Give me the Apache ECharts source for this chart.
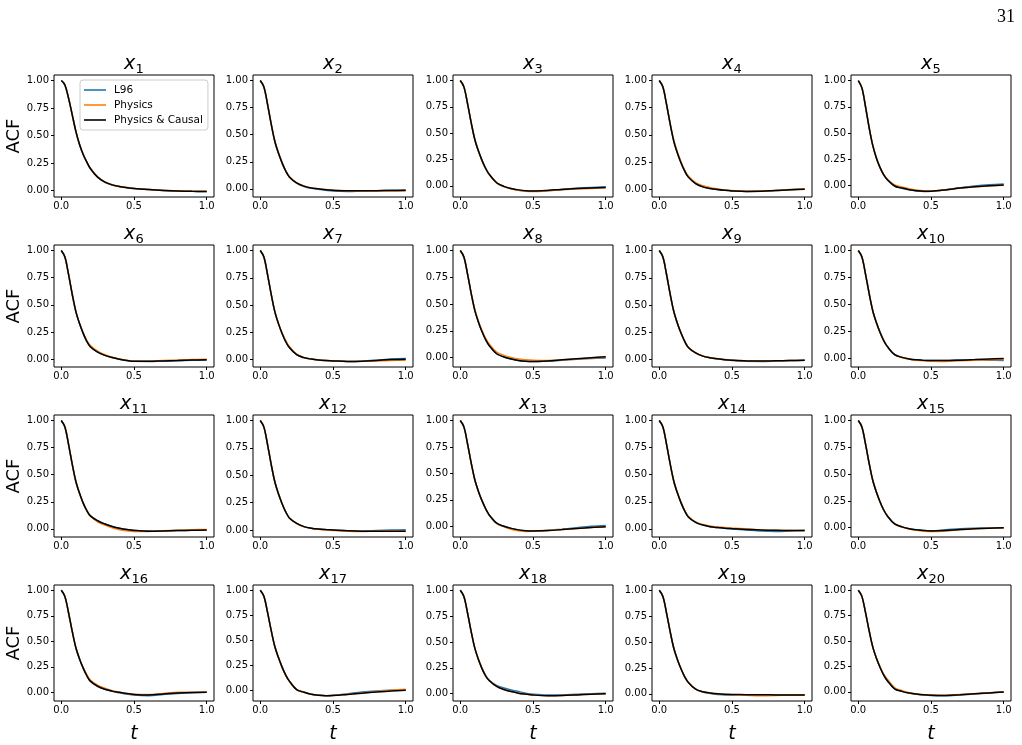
<!DOCTYPE html>
<html>
<head>
<meta charset="utf-8">
<script src="https://cdn.jsdelivr.net/npm/echarts@6/dist/echarts.min.js"></script>
<style>
  html, body { margin: 0; padding: 0; background: #fff; }
  #main { width: 1022px; height: 745px; }
</style>
</head>
<body>
<div id="main"></div>
<script>
// lag times (x values shared by every panel)
const lags = [0, 0.025, 0.05, 0.075, 0.1, 0.125, 0.15, 0.175, 0.2, 0.25, 0.3, 0.35, 0.4, 0.45, 0.5, 0.6, 0.7, 0.8, 0.9, 1.0];

// ACF per variable
const l96_1  = [1.00,0.96,0.84,0.69,0.54,0.42,0.33,0.26,0.20,0.120,0.075,0.050,0.035,0.025,0.018,0.008,0.000,-0.005,-0.008,-0.009];
const phy_1  = [1.00,0.96,0.84,0.69,0.54,0.42,0.33,0.26,0.20,0.122,0.078,0.052,0.037,0.027,0.019,0.009,0.001,-0.004,-0.007,-0.008];
const cau_1  = [1.00,0.96,0.84,0.69,0.54,0.42,0.33,0.26,0.20,0.121,0.076,0.051,0.036,0.026,0.018,0.008,0.000,-0.005,-0.008,-0.009];

const l96_2  = [1.00,0.94,0.78,0.60,0.44,0.33,0.24,0.165,0.110,0.053,0.022,0.005,-0.004,-0.013,-0.020,-0.024,-0.020,-0.017,-0.014,-0.012];
const phy_2  = [1.00,0.94,0.78,0.60,0.44,0.33,0.24,0.167,0.112,0.056,0.026,0.009,0.000,-0.006,-0.012,-0.017,-0.019,-0.020,-0.020,-0.020];
const cau_2  = [1.00,0.94,0.78,0.60,0.44,0.33,0.24,0.165,0.110,0.055,0.025,0.008,0.000,-0.008,-0.013,-0.018,-0.018,-0.017,-0.015,-0.013];

const l96_3  = [1.00,0.94,0.78,0.60,0.44,0.33,0.24,0.162,0.105,0.028,-0.007,-0.028,-0.041,-0.049,-0.052,-0.045,-0.033,-0.023,-0.015,-0.009];
const phy_3  = [1.00,0.94,0.78,0.60,0.44,0.33,0.24,0.165,0.110,0.031,-0.006,-0.027,-0.041,-0.050,-0.053,-0.047,-0.036,-0.029,-0.024,-0.019];
const cau_3  = [1.00,0.94,0.78,0.60,0.44,0.33,0.24,0.165,0.108,0.030,-0.005,-0.025,-0.038,-0.046,-0.048,-0.043,-0.034,-0.026,-0.020,-0.015];

const l96_4  = [1.00,0.94,0.78,0.60,0.44,0.33,0.24,0.165,0.110,0.050,0.020,0.005,-0.005,-0.012,-0.017,-0.022,-0.021,-0.014,-0.006,0.000];
const phy_4  = [1.00,0.94,0.78,0.60,0.45,0.34,0.25,0.175,0.120,0.060,0.030,0.013,0.002,-0.008,-0.014,-0.020,-0.018,-0.012,-0.004,0.002];
const cau_4  = [1.00,0.94,0.78,0.60,0.44,0.33,0.24,0.165,0.110,0.050,0.020,0.005,-0.005,-0.012,-0.017,-0.022,-0.021,-0.014,-0.006,-0.002];

const l96_5  = [1.00,0.93,0.75,0.55,0.38,0.26,0.17,0.100,0.055,-0.006,-0.027,-0.042,-0.052,-0.057,-0.055,-0.040,-0.022,-0.006,0.006,0.013];
const phy_5  = [1.00,0.93,0.75,0.55,0.38,0.26,0.17,0.105,0.060,0.005,-0.015,-0.030,-0.042,-0.050,-0.052,-0.042,-0.026,-0.013,-0.004,0.003];
const cau_5  = [1.00,0.93,0.75,0.55,0.38,0.26,0.17,0.100,0.055,-0.005,-0.025,-0.040,-0.050,-0.055,-0.054,-0.042,-0.025,-0.012,-0.002,0.005];

const l96_6  = [1.00,0.94,0.78,0.60,0.44,0.33,0.24,0.165,0.115,0.065,0.035,0.015,0.000,-0.012,-0.020,-0.021,-0.018,-0.015,-0.010,-0.008];
const phy_6  = [1.00,0.94,0.78,0.60,0.44,0.33,0.245,0.175,0.125,0.075,0.042,0.018,0.002,-0.010,-0.018,-0.019,-0.013,-0.008,-0.003,-0.001];
const cau_6  = [1.00,0.94,0.78,0.60,0.44,0.33,0.24,0.165,0.115,0.065,0.035,0.015,0.000,-0.012,-0.020,-0.020,-0.016,-0.012,-0.008,-0.006];

const l96_7  = [1.00,0.94,0.78,0.60,0.44,0.33,0.24,0.165,0.110,0.045,0.018,0.005,-0.003,-0.008,-0.012,-0.017,-0.014,-0.005,0.006,0.010];
const phy_7  = [1.00,0.94,0.78,0.60,0.44,0.33,0.245,0.175,0.120,0.050,0.020,0.006,-0.002,-0.008,-0.012,-0.017,-0.016,-0.012,-0.008,-0.005];
const cau_7  = [1.00,0.94,0.78,0.60,0.44,0.33,0.24,0.165,0.110,0.045,0.018,0.005,-0.003,-0.008,-0.012,-0.017,-0.015,-0.008,0.000,0.003];

const l96_8  = [1.00,0.94,0.78,0.60,0.44,0.33,0.24,0.165,0.110,0.035,0.005,-0.015,-0.028,-0.035,-0.037,-0.033,-0.025,-0.016,-0.010,-0.004];
const phy_8  = [1.00,0.94,0.78,0.60,0.45,0.34,0.25,0.180,0.125,0.050,0.020,0.000,-0.015,-0.022,-0.026,-0.028,-0.022,-0.014,-0.005,0.003];
const cau_8  = [1.00,0.94,0.78,0.60,0.44,0.33,0.24,0.165,0.110,0.035,0.005,-0.015,-0.028,-0.035,-0.037,-0.032,-0.022,-0.012,-0.002,0.008];

const l96_9  = [1.00,0.94,0.78,0.60,0.44,0.33,0.24,0.165,0.110,0.060,0.030,0.015,0.005,-0.004,-0.010,-0.018,-0.019,-0.015,-0.011,-0.009];
const phy_9  = [1.00,0.94,0.78,0.60,0.44,0.33,0.24,0.165,0.110,0.060,0.031,0.016,0.006,-0.002,-0.007,-0.013,-0.014,-0.013,-0.011,-0.009];
const cau_9  = [1.00,0.94,0.78,0.60,0.44,0.33,0.24,0.165,0.110,0.060,0.030,0.015,0.005,-0.003,-0.008,-0.014,-0.015,-0.013,-0.011,-0.009];

const l96_10 = [1.00,0.94,0.78,0.60,0.44,0.33,0.24,0.165,0.110,0.035,0.010,-0.005,-0.013,-0.018,-0.020,-0.019,-0.015,-0.014,-0.016,-0.020];
const phy_10 = [1.00,0.94,0.78,0.60,0.44,0.33,0.24,0.165,0.110,0.035,0.008,-0.008,-0.017,-0.022,-0.025,-0.028,-0.022,-0.016,-0.012,-0.010];
const cau_10 = [1.00,0.94,0.78,0.60,0.44,0.33,0.24,0.165,0.110,0.035,0.010,-0.005,-0.013,-0.018,-0.020,-0.020,-0.016,-0.011,-0.005,0.000];

const l96_11 = [1.00,0.94,0.78,0.60,0.44,0.33,0.24,0.170,0.120,0.075,0.045,0.022,0.005,-0.007,-0.014,-0.020,-0.019,-0.016,-0.013,-0.010];
const phy_11 = [1.00,0.94,0.78,0.60,0.44,0.33,0.24,0.170,0.120,0.065,0.035,0.010,-0.008,-0.018,-0.024,-0.024,-0.018,-0.012,-0.008,-0.005];
const cau_11 = [1.00,0.94,0.78,0.60,0.44,0.33,0.24,0.170,0.120,0.075,0.045,0.022,0.005,-0.007,-0.015,-0.022,-0.020,-0.016,-0.013,-0.010];

const l96_12 = [1.00,0.94,0.78,0.60,0.44,0.33,0.24,0.165,0.110,0.060,0.030,0.016,0.008,0.003,-0.001,-0.008,-0.011,-0.006,-0.001,0.002];
const phy_12 = [1.00,0.94,0.78,0.60,0.44,0.33,0.24,0.165,0.110,0.060,0.030,0.016,0.007,0.000,-0.005,-0.012,-0.014,-0.010,-0.008,-0.008];
const cau_12 = [1.00,0.94,0.78,0.60,0.44,0.33,0.24,0.165,0.110,0.060,0.030,0.016,0.008,0.003,-0.001,-0.008,-0.012,-0.013,-0.013,-0.012];

const l96_13 = [1.00,0.94,0.78,0.60,0.44,0.33,0.24,0.165,0.105,0.030,0.000,-0.020,-0.034,-0.042,-0.045,-0.040,-0.027,-0.013,0.000,0.008];
const phy_13 = [1.00,0.94,0.78,0.60,0.44,0.33,0.24,0.165,0.105,0.028,-0.005,-0.028,-0.043,-0.049,-0.048,-0.041,-0.031,-0.020,-0.011,-0.005];
const cau_13 = [1.00,0.94,0.78,0.60,0.44,0.33,0.24,0.165,0.105,0.030,0.000,-0.020,-0.034,-0.042,-0.045,-0.041,-0.031,-0.020,-0.011,-0.005];

const l96_14 = [1.00,0.94,0.78,0.60,0.44,0.33,0.24,0.165,0.110,0.060,0.035,0.020,0.012,0.006,0.000,-0.010,-0.020,-0.024,-0.020,-0.016];
const phy_14 = [1.00,0.94,0.78,0.60,0.44,0.33,0.24,0.170,0.115,0.065,0.040,0.026,0.018,0.013,0.008,0.000,-0.010,-0.014,-0.015,-0.015];
const cau_14 = [1.00,0.94,0.78,0.60,0.44,0.33,0.24,0.165,0.110,0.060,0.035,0.020,0.012,0.006,0.002,-0.005,-0.011,-0.014,-0.015,-0.015];

const l96_15 = [1.00,0.94,0.78,0.60,0.44,0.33,0.24,0.165,0.110,0.035,0.008,-0.010,-0.020,-0.026,-0.028,-0.020,-0.010,-0.005,-0.002,0.000];
const phy_15 = [1.00,0.94,0.78,0.60,0.44,0.33,0.24,0.165,0.110,0.035,0.006,-0.013,-0.024,-0.032,-0.035,-0.030,-0.018,-0.009,-0.004,0.000];
const cau_15 = [1.00,0.94,0.78,0.60,0.44,0.33,0.24,0.165,0.110,0.035,0.008,-0.010,-0.020,-0.027,-0.030,-0.026,-0.016,-0.009,-0.004,0.000];

const l96_16 = [1.00,0.94,0.78,0.60,0.44,0.33,0.24,0.165,0.110,0.060,0.030,0.010,-0.004,-0.017,-0.027,-0.033,-0.022,-0.010,-0.003,0.000];
const phy_16 = [1.00,0.94,0.78,0.60,0.44,0.33,0.245,0.175,0.120,0.070,0.040,0.016,0.002,-0.010,-0.018,-0.022,-0.012,0.000,0.002,0.002];
const cau_16 = [1.00,0.94,0.78,0.60,0.44,0.33,0.24,0.165,0.110,0.060,0.030,0.012,0.000,-0.012,-0.020,-0.025,-0.016,-0.006,-0.001,0.000];

const l96_17 = [1.00,0.94,0.78,0.60,0.44,0.33,0.235,0.155,0.095,0.012,-0.015,-0.035,-0.045,-0.049,-0.046,-0.030,-0.013,-0.002,0.005,0.008];
const phy_17 = [1.00,0.94,0.78,0.60,0.44,0.33,0.235,0.155,0.095,0.010,-0.016,-0.036,-0.046,-0.050,-0.048,-0.036,-0.022,-0.008,0.005,0.015];
const cau_17 = [1.00,0.94,0.78,0.60,0.44,0.33,0.235,0.155,0.095,0.010,-0.015,-0.035,-0.045,-0.050,-0.048,-0.037,-0.025,-0.013,-0.004,0.004];

const l96_18 = [1.00,0.94,0.78,0.60,0.44,0.33,0.245,0.175,0.130,0.080,0.055,0.035,0.020,0.005,-0.005,-0.013,-0.012,-0.006,0.000,0.003];
const phy_18 = [1.00,0.94,0.78,0.60,0.44,0.33,0.24,0.170,0.125,0.070,0.040,0.020,0.005,-0.005,-0.013,-0.020,-0.018,-0.012,-0.005,0.000];
const cau_18 = [1.00,0.94,0.78,0.60,0.44,0.33,0.24,0.170,0.125,0.070,0.040,0.020,0.005,-0.005,-0.013,-0.020,-0.018,-0.012,-0.005,0.000];

const l96_19 = [1.00,0.94,0.78,0.60,0.44,0.33,0.24,0.165,0.110,0.045,0.018,0.004,-0.005,-0.010,-0.010,-0.009,-0.009,-0.010,-0.010,-0.010];
const phy_19 = [1.00,0.94,0.78,0.60,0.44,0.33,0.24,0.165,0.110,0.045,0.020,0.008,0.000,-0.005,-0.008,-0.014,-0.018,-0.016,-0.012,-0.010];
const cau_19 = [1.00,0.94,0.78,0.60,0.44,0.33,0.24,0.165,0.110,0.045,0.020,0.008,0.000,-0.004,-0.006,-0.008,-0.009,-0.010,-0.010,-0.010];

const l96_20 = [1.00,0.94,0.78,0.60,0.44,0.33,0.24,0.165,0.110,0.030,0.005,-0.012,-0.023,-0.031,-0.035,-0.038,-0.030,-0.020,-0.010,-0.001];
const phy_20 = [1.00,0.94,0.78,0.60,0.44,0.33,0.245,0.175,0.125,0.040,0.012,-0.008,-0.020,-0.028,-0.032,-0.033,-0.027,-0.018,-0.009,0.000];
const cau_20 = [1.00,0.94,0.78,0.60,0.44,0.33,0.24,0.165,0.110,0.030,0.005,-0.012,-0.022,-0.029,-0.033,-0.035,-0.028,-0.019,-0.010,-0.001];

const l96Series = [l96_1,l96_2,l96_3,l96_4,l96_5,l96_6,l96_7,l96_8,l96_9,l96_10,l96_11,l96_12,l96_13,l96_14,l96_15,l96_16,l96_17,l96_18,l96_19,l96_20];
const physSeries = [phy_1,phy_2,phy_3,phy_4,phy_5,phy_6,phy_7,phy_8,phy_9,phy_10,phy_11,phy_12,phy_13,phy_14,phy_15,phy_16,phy_17,phy_18,phy_19,phy_20];
const causSeries = [cau_1,cau_2,cau_3,cau_4,cau_5,cau_6,cau_7,cau_8,cau_9,cau_10,cau_11,cau_12,cau_13,cau_14,cau_15,cau_16,cau_17,cau_18,cau_19,cau_20];

const seriesNames = ['L96', 'Physics', 'Physics & Causal'];
const seriesColors = ['#1f77b4', '#ff7f0e', '#000000'];
const xTicks = [0, 0.5, 1.0];
const yTicks = [0, 0.25, 0.5, 0.75, 1.0];

// layout of the 4x5 panel grid
const colLeft = [54, 253, 453, 652, 851];
const rowTop = [75, 245, 415, 585];
const panelW = 160, panelH = 122;
const FONT = 'DejaVu Sans';

const chart = echarts.init(document.getElementById('main'));

let grids = [], xAxes = [], yAxes = [], titles = [], series = [];

for (let i = 0; i < 20; i++) {
    let r = Math.floor(i / 5), c = i % 5;
    let sets = [l96Series[i], physSeries[i], causSeries[i]];
    // matplotlib-like 5% margin around the data
    let lo = Math.min(...sets.map(s => Math.min(...s)));
    let hi = Math.max(...sets.map(s => Math.max(...s)));
    let pad = (hi - lo) * 0.05;

    grids.push({
        left: colLeft[c], top: rowTop[r], width: panelW, height: panelH,
        show: true, borderColor: '#000', borderWidth: 1, backgroundColor: 'transparent'
    });
    xAxes.push({
        type: 'value', gridIndex: i, min: -0.05, max: 1.05,
        axisLine: { show: false, onZero: false },
        axisTick: { show: true, length: 3, customValues: xTicks, lineStyle: { color: '#000', width: 1 } },
        axisLabel: { customValues: xTicks, margin: 4, fontSize: 10, fontFamily: FONT, color: '#000',
            formatter: v => v.toFixed(1) },
        splitLine: { show: false },
        name: r === 3 ? 't' : '', nameLocation: 'middle', nameGap: 24,
        nameTextStyle: { fontSize: 19, fontStyle: 'italic', fontFamily: FONT, color: '#000' }
    });
    yAxes.push({
        type: 'value', gridIndex: i, min: lo - pad, max: hi + pad,
        axisLine: { show: false, onZero: false },
        axisTick: { show: true, length: 3, customValues: yTicks, lineStyle: { color: '#000', width: 1 } },
        axisLabel: { customValues: yTicks, margin: 5, fontSize: 10, fontFamily: FONT, color: '#000',
            formatter: v => v.toFixed(2) },
        splitLine: { show: false },
        name: c === 0 ? 'ACF' : '', nameLocation: 'middle', nameGap: 31,
        nameTextStyle: { fontSize: 18, fontFamily: FONT, color: '#000' }
    });

    // panel title x_i : italic x plus a smaller subscript index
    let sub = String(i + 1);
    let titleW = 11.5 + sub.length * 8.3;
    let startX = colLeft[c] + panelW / 2 - titleW / 2;
    titles.push({
        text: 'x', left: startX, top: rowTop[r] - 20.5, padding: 0,
        textStyle: { fontSize: 19, fontStyle: 'italic', fontWeight: 'normal', fontFamily: FONT, color: '#000', lineHeight: 19 }
    });
    titles.push({
        text: sub, left: startX + 11.5, top: rowTop[r] - 12, padding: 0,
        textStyle: { fontSize: 13, fontWeight: 'normal', fontFamily: FONT, color: '#000', lineHeight: 13 }
    });

    sets.forEach((vals, k) => {
        series.push({
            type: 'line', name: seriesNames[k], xAxisIndex: i, yAxisIndex: i,
            data: lags.map((t, j) => [t, vals[j]]),
            showSymbol: false, smooth: 0.35, animation: false,
            itemStyle: { color: seriesColors[k] },
            lineStyle: { color: seriesColors[k], width: 1.5 }
        });
    });
}

chart.setOption({
    backgroundColor: '#fff',
    animation: false,
    title: titles,
    grid: grids,
    xAxis: xAxes,
    yAxis: yAxes,
    series: series,
    legend: {
        data: seriesNames, orient: 'vertical', left: 80, top: 80,
        icon: 'rect', itemWidth: 22, itemHeight: 1.6, itemGap: 3,
        padding: [4, 5, 4, 4],
        borderColor: '#cccccc', borderWidth: 1, borderRadius: 3,
        backgroundColor: 'rgba(255,255,255,0.8)',
        textStyle: { fontSize: 10.5, lineHeight: 12, fontFamily: FONT, color: '#000', padding: [0, 0, 0, 3] }
    },
    graphic: [{
        type: 'text', right: 7, top: 8,
        style: { text: '31', fontSize: 18, fontFamily: 'Liberation Serif', fill: '#000' }
    }]
});
</script>
</body>
</html>
